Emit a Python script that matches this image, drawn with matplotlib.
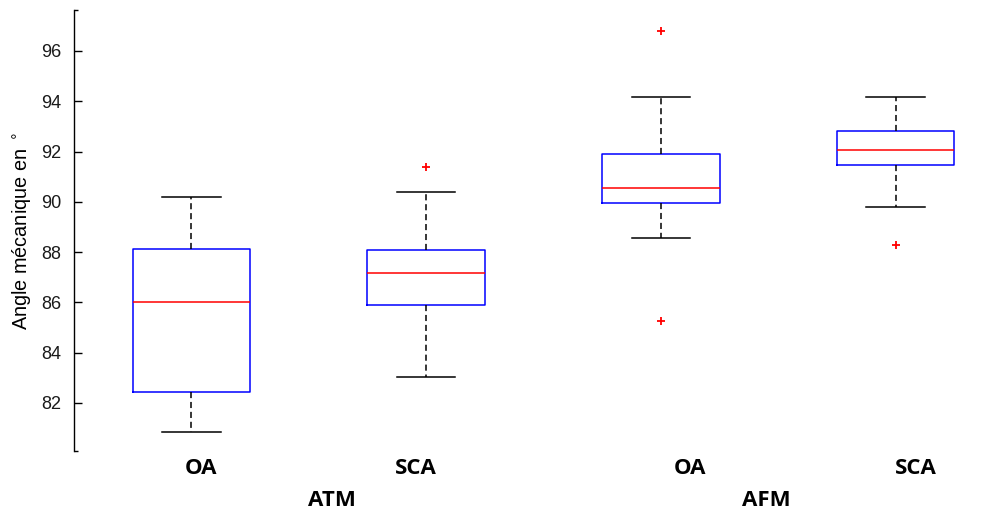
import matplotlib.pyplot as plt

# values (box stats per group)
labels = ["OA", "SCA", "OA", "SCA"]
groups = ["ATM", "AFM"]
whislo = [80.86, 83.05, 88.57, 89.79]
q1 = [82.44, 85.88, 89.94, 91.48]
med = [86.03, 87.17, 90.54, 92.05]
q3 = [88.14, 88.08, 91.89, 92.83]
whishi = [90.18, 90.39, 94.17, 94.17]
fliers = [[], [91.37], [96.78, 85.27], [88.27]]

stats = []
for i in range(len(labels)):
    stats.append({"whislo": whislo[i], "q1": q1[i], "med": med[i], "q3": q3[i],
                  "whishi": whishi[i], "fliers": fliers[i], "label": labels[i]})

fig = plt.figure(figsize=(10.01, 5.13), dpi=100)
ax = fig.add_axes([74 / 1001, 1 - 451 / 513, 939 / 1001, 441 / 513])

ax.bxp(stats, positions=[1, 2, 3, 4], widths=0.5, showfliers=True,
       boxprops=dict(color="#0000ff", linewidth=1.1),
       medianprops=dict(color="#ff0000", linewidth=1.1),
       whiskerprops=dict(color="black", linewidth=1.1, linestyle=(0, (4, 2.5))),
       capprops=dict(color="black", linewidth=1.1),
       flierprops=dict(marker="+", markeredgecolor="#ff0000", markersize=6,
                       markeredgewidth=1.3, linestyle="none"))

ax.set_xlim(0.5, 4.5)
ax.set_ylim(80.09, 97.63)
ax.set_yticks([82, 84, 86, 88, 90, 92, 94, 96])
ax.set_yticks([80.09, 97.63], minor=True)
ax.set_xticks([])
for s in ["top", "right", "bottom"]:
    ax.spines[s].set_visible(False)
ax.spines["left"].set_linewidth(1.0)
ax.tick_params(axis="y", which="major", direction="in", length=6, width=1.0,
               pad=9, labelsize=13, labelcolor="#1a1a1a")
ax.tick_params(axis="y", which="minor", direction="in", length=3, width=1.0)
for t in ax.get_yticklabels():
    t.set_family("Liberation Sans")

ax.set_ylabel("Angle mécanique en $^\\circ$", fontsize=14.3, family="Liberation Sans")
ax.yaxis.set_label_coords(-0.044, 0.5)

# category labels under the boxes
lab_x = [201, 416, 690, 916]
for x, t in zip(lab_x, labels):
    fig.text(x / 1001, 1 - 468 / 513, t, ha="center", va="center",
             fontsize=16, fontweight="bold", family="Open Sans")
grp_x = [332, 766]
for x, t in zip(grp_x, groups):
    fig.text(x / 1001, 1 - 500 / 513, t, ha="center", va="center",
             fontsize=16, fontweight="bold", family="Open Sans")

fig.savefig("out.png", dpi=100)
